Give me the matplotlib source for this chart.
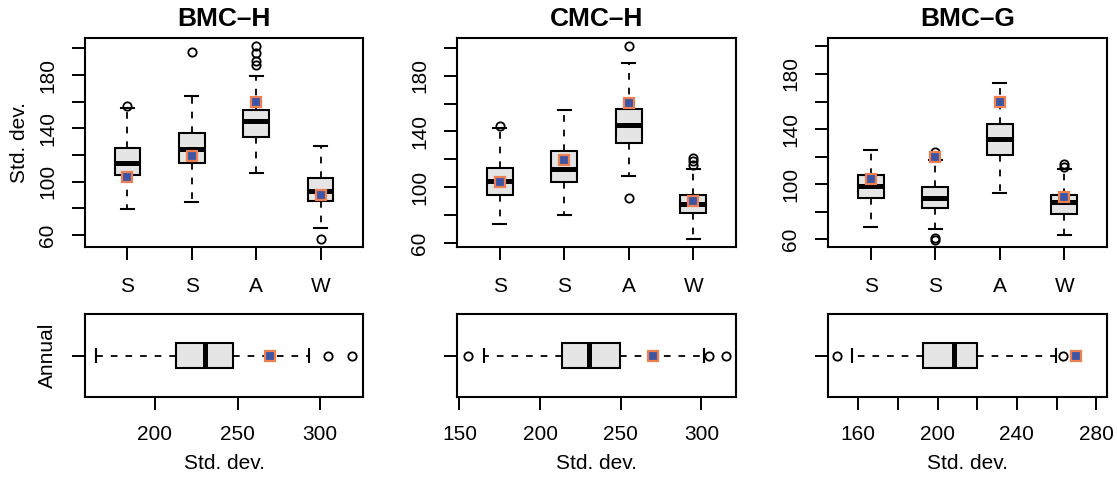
import matplotlib
matplotlib.use('Agg')
import matplotlib.pyplot as plt

plt.rcParams['font.family'] = ['Liberation Sans', 'DejaVu Sans']

# ---- data ----
panel_names = ["BMC\u2013H", "CMC\u2013H", "BMC\u2013G"]
season_labels = ["S", "S", "A", "W"]

# seasonal boxes, one list per panel
bmch_q1 = [105.2, 114.1, 133.9, 85.2]
bmch_med = [113.9, 124.6, 145.8, 93.2]
bmch_q3 = [125.4, 136.8, 154.1, 102.7]
bmch_lo = [79.7, 85.0, 106.7, 65.0]
bmch_hi = [155.0, 164.3, 179.3, 126.4]
bmch_out = [[156.8], [197.5], [202.0, 196.2, 190.5, 187.5], [57.3]]
bmch_obs = [103.4, 118.9, 160.0, 90.2]

cmch_q1 = [94.7, 103.8, 131.8, 81.5]
cmch_med = [104.3, 113.3, 144.9, 87.8]
cmch_q3 = [114.1, 125.8, 155.9, 94.2]
cmch_lo = [73.9, 80.3, 107.8, 62.6]
cmch_hi = [142.5, 155.2, 189.2, 112.9]
cmch_out = [[143.7], [], [201.1, 92.5], [121.0, 118.5, 115.8]]
cmch_obs = [103.5, 119.3, 160.2, 90.4]

bmcg_q1 = [89.9, 82.6, 121.4, 78.7]
bmcg_med = [98.6, 90.3, 133.1, 86.7]
bmcg_q3 = [106.6, 97.6, 143.5, 91.8]
bmcg_lo = [69.0, 67.3, 93.3, 63.4]
bmcg_hi = [124.8, 117.8, 173.3, 110.7]
bmcg_out = [[], [123.4, 60.7, 59.8], [], [114.6, 112.7]]
bmcg_obs = [103.7, 119.5, 160.0, 90.8]

# annual boxes: BMC-H, CMC-H, BMC-G
ann_q1 = [212.7, 213.5, 192.5]
ann_med = [230.3, 230.1, 208.5]
ann_q3 = [247.1, 249.8, 220.1]
ann_lo = [164.2, 165.1, 157.1]
ann_hi = [293.0, 301.5, 259.8]
ann_out = [[305.0, 319.2], [155.2, 304.6, 315.1], [149.1, 263.0]]
ann_obs = [269.7, 269.9, 269.8]

# ---- layout ----
W, H = 1117, 478
BOX_FILL = '#E5E5E5'
OBS_FILL = '#3C55A5'
OBS_EDGE = '#EE7F52'

top_rects = [(85, 38, 363, 247), (457, 38, 736, 247), (828, 38, 1107, 247)]
bot_rects = [(85, 314, 363, 397), (457, 314, 736, 397), (828, 314, 1107, 397)]
top_ylims = [(51.0, 207.8), (57.1, 207.0), (54.4, 206.1)]
bot_xlims = [(157.6, 326.0), (148.5, 321.4), (144.8, 285.4)]
bot_ticks = [[200, 250, 300], [150, 200, 250, 300], [160, 180, 200, 220, 240, 260, 280]]
bot_labels = [["200", "250", "300"], ["150", "200", "250", "300"],
              ["160", "", "200", "", "240", "", "280"]]


def px_rect(r):
    x0, y0, x1, y1 = r
    return [x0 / W, 1 - y1 / H, (x1 - x0) / W, (y1 - y0) / H]


def make_stats(q1, med, q3, lo, hi, out):
    return [dict(q1=a, med=b, q3=c, whislo=d, whishi=e, fliers=f)
            for a, b, c, d, e, f in zip(q1, med, q3, lo, hi, out)]


box_kw = dict(
    widths=0.4, capwidths=0.2, patch_artist=True,
    boxprops=dict(facecolor=BOX_FILL, edgecolor='black', linewidth=1.5),
    medianprops=dict(color='black', linewidth=3.6, solid_capstyle='butt'),
    whiskerprops=dict(color='black', linewidth=1.3, linestyle=(0, (3.7, 4.4))),
    capprops=dict(color='black', linewidth=1.5),
    flierprops=dict(marker='o', markerfacecolor='none', markeredgecolor='black',
                    markersize=6, markeredgewidth=1.3),
)
obs_kw = dict(marker='s', linestyle='none', markersize=7, markerfacecolor=OBS_FILL,
              markeredgecolor=OBS_EDGE, markeredgewidth=1.6, zorder=5)


def style_frame(ax):
    for sp in ax.spines.values():
        sp.set_linewidth(1.5)
    ax.tick_params(length=9.5, width=1.4, pad=10.5, labelsize=15)


fig = plt.figure(figsize=(W / 100, H / 100), dpi=100)

seasonal = [
    (bmch_q1, bmch_med, bmch_q3, bmch_lo, bmch_hi, bmch_out, bmch_obs),
    (cmch_q1, cmch_med, cmch_q3, cmch_lo, cmch_hi, cmch_out, cmch_obs),
    (bmcg_q1, bmcg_med, bmcg_q3, bmcg_lo, bmcg_hi, bmcg_out, bmcg_obs),
]

for i, name in enumerate(panel_names):
    q1, med, q3, lo, hi, out, obs = seasonal[i]
    pos = list(range(1, len(season_labels) + 1))

    # seasonal boxplot
    ax = fig.add_axes(px_rect(top_rects[i]))
    ax.bxp(make_stats(q1, med, q3, lo, hi, out), positions=pos, **box_kw)
    ax.plot(pos, obs, **obs_kw)
    ax.set_xlim(0.34, 4.66)
    ax.set_ylim(*top_ylims[i])
    ax.set_xticks(pos)
    ax.set_xticklabels(season_labels)
    ax.set_yticks(range(60, 201, 20))
    ax.set_yticklabels([str(v) if v % 40 == 20 else "" for v in range(60, 201, 20)],
                       rotation=90, va='center')
    style_frame(ax)
    ax.tick_params(axis='x', pad=12)
    ax.text(0.5, 1.09, name, transform=ax.transAxes, fontsize=19,
            fontweight='bold', ha='center', va='center')
    if i == 0:
        ax.set_ylabel("Std. dev.", fontsize=15, va='center')
        ax.yaxis.set_label_coords(-0.237, 0.5)

    # annual boxplot
    axb = fig.add_axes(px_rect(bot_rects[i]))
    axb.bxp(make_stats([ann_q1[i]], [ann_med[i]], [ann_q3[i]], [ann_lo[i]],
                       [ann_hi[i]], [ann_out[i]]),
            positions=[1], orientation='horizontal', **box_kw)
    axb.plot([ann_obs[i]], [1], **obs_kw)
    axb.set_ylim(0.31, 1.69)
    axb.set_xlim(*bot_xlims[i])
    axb.set_xticks(bot_ticks[i])
    axb.set_xticklabels(bot_labels[i])
    axb.set_yticks([1])
    axb.set_yticklabels(["Annual" if i == 0 else ""], rotation=90, va='center')
    style_frame(axb)
    axb.set_xlabel("Std. dev.", fontsize=15, va='center')
    axb.xaxis.set_label_coords(0.5, -0.80)

fig.savefig("out.png", dpi=100)
